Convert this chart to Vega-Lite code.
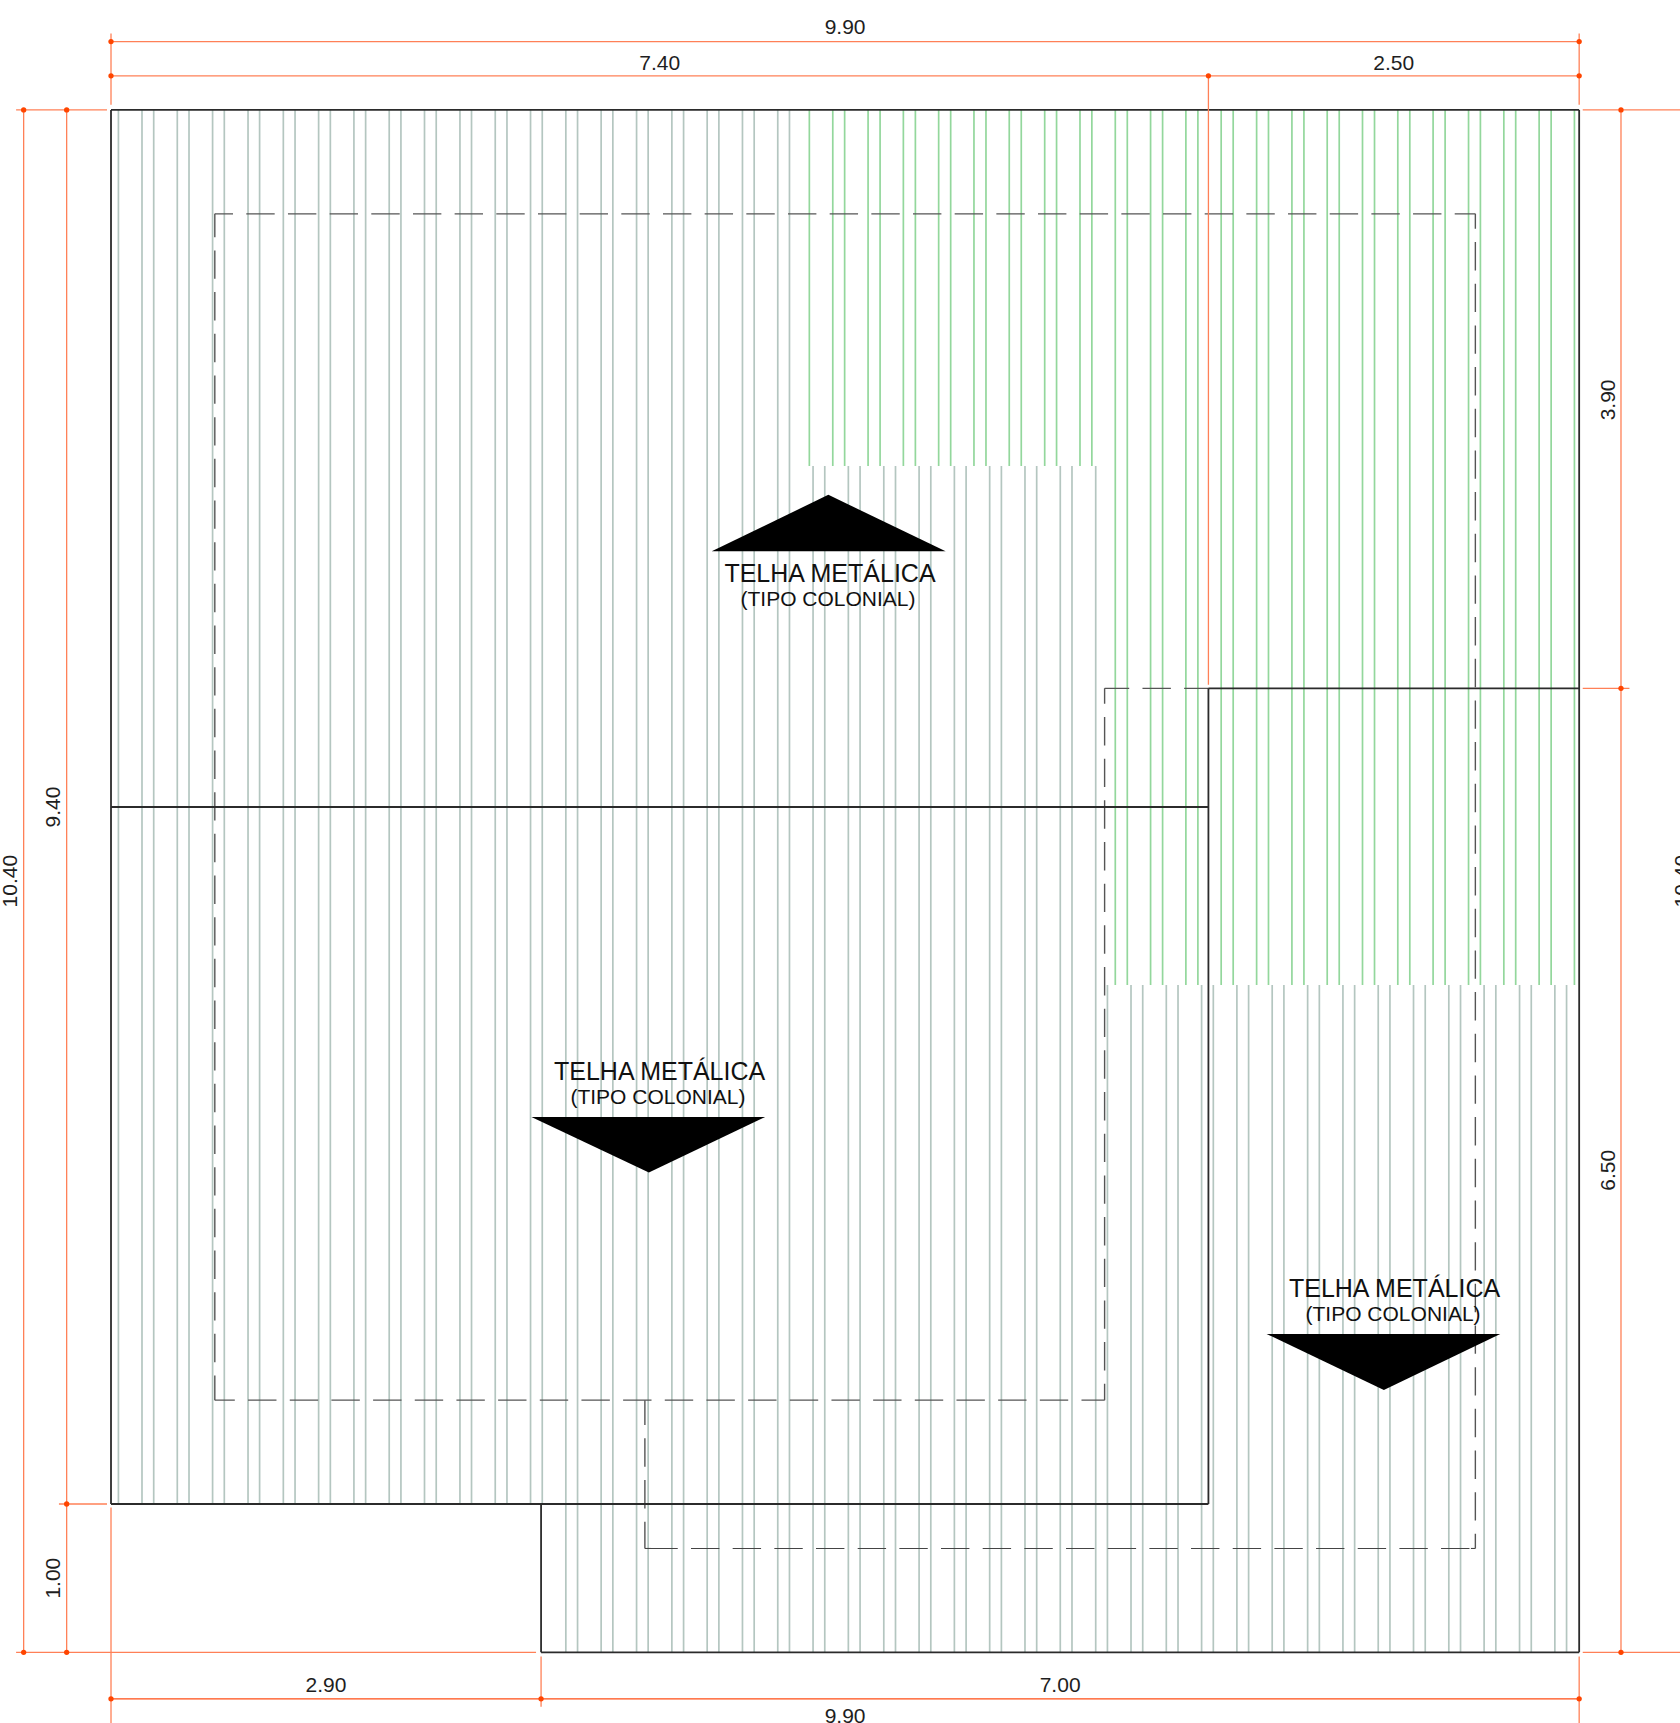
{"$schema":"https://vega.github.io/schema/vega-lite/v6.json","width":1680,"height":1723,"padding":0,"autosize":{"type":"none"},"background":"white","config":{"view":{"stroke":null}},
"datasets":{
"grey":[
{"x":0.050,"y":10.4,"y2":1},{"x":0.209,"y":10.4,"y2":1},{"x":0.288,"y":10.4,"y2":1},{"x":0.447,"y":10.4,"y2":1},{"x":0.526,"y":10.4,"y2":1},{"x":0.685,"y":10.4,"y2":1},{"x":0.764,"y":10.4,"y2":1},{"x":0.924,"y":10.4,"y2":1},{"x":1.002,"y":10.4,"y2":1},{"x":1.162,"y":10.4,"y2":1},{"x":1.241,"y":10.4,"y2":1},{"x":1.400,"y":10.4,"y2":1},{"x":1.479,"y":10.4,"y2":1},{"x":1.638,"y":10.4,"y2":1},{"x":1.717,"y":10.4,"y2":1},{"x":1.876,"y":10.4,"y2":1},{"x":1.955,"y":10.4,"y2":1},{"x":2.114,"y":10.4,"y2":1},{"x":2.193,"y":10.4,"y2":1},{"x":2.353,"y":10.4,"y2":1},{"x":2.431,"y":10.4,"y2":1},{"x":2.591,"y":10.4,"y2":1},{"x":2.670,"y":10.4,"y2":1},{"x":2.829,"y":10.4,"y2":1},{"x":2.908,"y":10.4,"y2":1},
{"x":3.067,"y":10.4,"y2":0},{"x":3.146,"y":10.4,"y2":0},{"x":3.305,"y":10.4,"y2":0},{"x":3.384,"y":10.4,"y2":0},{"x":3.544,"y":10.4,"y2":0},{"x":3.622,"y":10.4,"y2":0},{"x":3.782,"y":10.4,"y2":0},{"x":3.861,"y":10.4,"y2":0},{"x":4.020,"y":10.4,"y2":0},{"x":4.099,"y":10.4,"y2":0},{"x":4.258,"y":10.4,"y2":0},{"x":4.337,"y":10.4,"y2":0},{"x":4.496,"y":10.4,"y2":0},{"x":4.575,"y":10.4,"y2":0},
{"x":4.734,"y":8,"y2":0},{"x":4.813,"y":8,"y2":0},{"x":4.972,"y":8,"y2":0},{"x":5.051,"y":8,"y2":0},{"x":5.211,"y":8,"y2":0},{"x":5.290,"y":8,"y2":0},{"x":5.449,"y":8,"y2":0},{"x":5.528,"y":8,"y2":0},{"x":5.687,"y":8,"y2":0},{"x":5.766,"y":8,"y2":0},{"x":5.925,"y":8,"y2":0},{"x":6.004,"y":8,"y2":0},{"x":6.163,"y":8,"y2":0},{"x":6.242,"y":8,"y2":0},{"x":6.401,"y":8,"y2":0},{"x":6.480,"y":8,"y2":0},{"x":6.640,"y":8,"y2":0},
{"x":6.719,"y":4.5,"y2":0},{"x":6.878,"y":4.5,"y2":0},{"x":6.957,"y":4.5,"y2":0},{"x":7.116,"y":4.5,"y2":0},{"x":7.195,"y":4.5,"y2":0},{"x":7.354,"y":4.5,"y2":0},{"x":7.433,"y":4.5,"y2":0},{"x":7.592,"y":4.5,"y2":0},{"x":7.671,"y":4.5,"y2":0},{"x":7.830,"y":4.5,"y2":0},{"x":7.909,"y":4.5,"y2":0},{"x":8.069,"y":4.5,"y2":0},{"x":8.148,"y":4.5,"y2":0},{"x":8.307,"y":4.5,"y2":0},{"x":8.386,"y":4.5,"y2":0},{"x":8.545,"y":4.5,"y2":0},{"x":8.624,"y":4.5,"y2":0},{"x":8.783,"y":4.5,"y2":0},{"x":8.862,"y":4.5,"y2":0},{"x":9.021,"y":4.5,"y2":0},{"x":9.100,"y":4.5,"y2":0},{"x":9.259,"y":4.5,"y2":0},{"x":9.338,"y":4.5,"y2":0},{"x":9.498,"y":4.5,"y2":0},{"x":9.577,"y":4.5,"y2":0},{"x":9.736,"y":4.5,"y2":0},{"x":9.815,"y":4.5,"y2":0}],
"green":[
{"x":4.709,"y":10.4,"y2":8},{"x":4.867,"y":10.4,"y2":8},{"x":4.947,"y":10.4,"y2":8},{"x":5.105,"y":10.4,"y2":8},{"x":5.186,"y":10.4,"y2":8},{"x":5.343,"y":10.4,"y2":8},{"x":5.424,"y":10.4,"y2":8},{"x":5.581,"y":10.4,"y2":8},{"x":5.662,"y":10.4,"y2":8},{"x":5.819,"y":10.4,"y2":8},{"x":5.900,"y":10.4,"y2":8},{"x":6.057,"y":10.4,"y2":8},{"x":6.138,"y":10.4,"y2":8},{"x":6.296,"y":10.4,"y2":8},{"x":6.376,"y":10.4,"y2":8},{"x":6.534,"y":10.4,"y2":8},{"x":6.614,"y":10.4,"y2":8},
{"x":6.772,"y":10.4,"y2":4.5},{"x":6.853,"y":10.4,"y2":4.5},{"x":7.010,"y":10.4,"y2":4.5},{"x":7.091,"y":10.4,"y2":4.5},{"x":7.248,"y":10.4,"y2":4.5},{"x":7.329,"y":10.4,"y2":4.5},{"x":7.486,"y":10.4,"y2":4.5},{"x":7.567,"y":10.4,"y2":4.5},{"x":7.725,"y":10.4,"y2":4.5},{"x":7.805,"y":10.4,"y2":4.5},{"x":7.963,"y":10.4,"y2":4.5},{"x":8.044,"y":10.4,"y2":4.5},{"x":8.201,"y":10.4,"y2":4.5},{"x":8.282,"y":10.4,"y2":4.5},{"x":8.439,"y":10.4,"y2":4.5},{"x":8.520,"y":10.4,"y2":4.5},{"x":8.677,"y":10.4,"y2":4.5},{"x":8.758,"y":10.4,"y2":4.5},{"x":8.915,"y":10.4,"y2":4.5},{"x":8.996,"y":10.4,"y2":4.5},{"x":9.154,"y":10.4,"y2":4.5},{"x":9.234,"y":10.4,"y2":4.5},{"x":9.392,"y":10.4,"y2":4.5},{"x":9.472,"y":10.4,"y2":4.5},{"x":9.630,"y":10.4,"y2":4.5},{"x":9.711,"y":10.4,"y2":4.5},{"x":9.868,"y":10.4,"y2":4.5}],
"walls":[
{"x":0,"x2":9.9,"y":10.4,"y2":10.4},{"x":0,"x2":0,"y":10.4,"y2":1},{"x":0,"x2":7.4,"y":1,"y2":1},{"x":7.4,"x2":7.4,"y":6.5,"y2":1},{"x":7.4,"x2":9.9,"y":6.5,"y2":6.5},{"x":9.9,"x2":9.9,"y":10.4,"y2":0},{"x":2.9,"x2":9.9,"y":0,"y2":0},{"x":2.9,"x2":2.9,"y":1,"y2":0},{"x":0,"x2":7.4,"y":5.7,"y2":5.7}],
"orange":[
{"x":0,"x2":0,"y":10.915,"y2":10.436},{"x":9.9,"x2":9.9,"y":10.915,"y2":10.436},{"x":0,"x2":9.9,"y":10.861,"y2":10.861},{"x":0,"x2":9.9,"y":10.63,"y2":10.63},{"x":7.4,"x2":7.4,"y":10.63,"y2":6.525},
{"x":-0.64,"x2":-0.027,"y":10.4,"y2":10.4},{"x":-0.589,"x2":-0.589,"y":10.4,"y2":0},{"x":-0.299,"x2":-0.299,"y":10.4,"y2":0},{"x":-0.351,"x2":-0.027,"y":1,"y2":1},{"x":-0.64,"x2":2.866,"y":0,"y2":0},
{"x":9.924,"x2":10.58,"y":10.4,"y2":10.4},{"x":10.182,"x2":10.182,"y":10.4,"y2":0},{"x":9.924,"x2":10.239,"y":6.5,"y2":6.5},{"x":9.924,"x2":10.58,"y":0,"y2":0},
{"x":0,"x2":0,"y":0.976,"y2":-0.481},{"x":2.9,"x2":2.9,"y":-0.029,"y2":-0.368},{"x":9.9,"x2":9.9,"y":-0.029,"y2":-0.481}],
"dots":[{"x":0,"y":10.861},{"x":0,"y":10.63},{"x":9.9,"y":10.861},{"x":9.9,"y":10.63},{"x":7.4,"y":10.63},{"x":-0.589,"y":10.4},{"x":-0.299,"y":10.4},{"x":-0.299,"y":1},{"x":-0.589,"y":0},{"x":-0.299,"y":0},{"x":10.182,"y":10.4},{"x":10.182,"y":6.5},{"x":10.182,"y":0},{"x":0,"y":-0.314},{"x":2.9,"y":-0.314},{"x":9.9,"y":-0.314}],
"tri":[
{"t":"a","x":4.051,"y":7.424,"y2":7.424},{"t":"a","x":4.837,"y":7.805,"y2":7.424},{"t":"a","x":5.628,"y":7.424,"y2":7.424},
{"t":"b","x":2.835,"y":3.610,"y2":3.610},{"t":"b","x":3.627,"y":3.235,"y2":3.610},{"t":"b","x":4.411,"y":3.610,"y2":3.610},
{"t":"c","x":7.792,"y":2.147,"y2":2.147},{"t":"c","x":8.583,"y":1.769,"y2":2.147},{"t":"c","x":9.368,"y":2.147,"y2":2.147}],
"dimH":[{"x":4.95,"y":10.95,"l":"9.90"},{"x":3.7,"y":10.713,"l":"7.40"},{"x":8.65,"y":10.713,"l":"2.50"},{"x":4.95,"y":-0.435,"l":"9.90"},{"x":1.45,"y":-0.23,"l":"2.90"},{"x":6.4,"y":-0.23,"l":"7.00"}],
"dimV":[{"x":-0.677,"y":5.2,"l":"10.40"},{"x":-0.387,"y":5.7,"l":"9.40"},{"x":-0.387,"y":0.5,"l":"1.00"},{"x":10.098,"y":8.445,"l":"3.90"},{"x":10.098,"y":3.25,"l":"6.50"},{"x":10.6,"y":5.2,"l":"10.40"}],
"titles":[{"x":4.848,"y":7.215,"l":"TELHA METÁLICA"},{"x":3.699,"y":3.857,"l":"TELHA METÁLICA"},{"x":8.655,"y":2.394,"l":"TELHA METÁLICA"}],
"subs":[{"x":4.835,"y":7.053,"l":"(TIPO COLONIAL)"},{"x":3.688,"y":3.695,"l":"(TIPO COLONIAL)"},{"x":8.645,"y":2.232,"l":"(TIPO COLONIAL)"}]
},
"encoding":{"x":{"field":"x","type":"quantitative","axis":null,"scale":{"domain":[-0.7485,10.5799],"nice":false,"zero":false}},"y":{"field":"y","type":"quantitative","axis":null,"scale":{"domain":[-0.4768,11.1415],"nice":false,"zero":false}}},
"layer":[
{"data":{"name":"grey"},"mark":{"type":"rule","color":"#b4c6c0","strokeWidth":1.7},"encoding":{"y2":{"field":"y2"}}},
{"data":{"name":"green"},"mark":{"type":"rule","color":"#93d79c","strokeWidth":1.7},"encoding":{"y2":{"field":"y2"}}},
{"data":{"values":[{"x":0.7,"x2":9.2,"y":9.7,"y2":9.7}]},"mark":{"type":"rule","color":"#555555","strokeWidth":1.2,"strokeDash":[28.4,13.27],"strokeDashOffset":10.2},"encoding":{"x2":{"field":"x2"},"y2":{"field":"y2"}}},
{"data":{"values":[{"x":0.7,"x2":0.7,"y":9.7,"y2":1.7}]},"mark":{"type":"rule","color":"#555555","strokeWidth":1.4,"strokeDash":[28.4,13.27],"strokeDashOffset":5},"encoding":{"x2":{"field":"x2"},"y2":{"field":"y2"}}},
{"data":{"values":[{"x":0.7,"x2":6.7,"y":1.7,"y2":1.7}]},"mark":{"type":"rule","color":"#555555","strokeWidth":1.2,"strokeDash":[28.4,13.27],"strokeDashOffset":8.4},"encoding":{"x2":{"field":"x2"},"y2":{"field":"y2"}}},
{"data":{"values":[{"x":3.6,"x2":3.6,"y":1.7,"y2":0.7}]},"mark":{"type":"rule","color":"#555555","strokeWidth":1.4,"strokeDash":[28.4,13.27],"strokeDashOffset":3.5},"encoding":{"x2":{"field":"x2"},"y2":{"field":"y2"}}},
{"data":{"values":[{"x":3.63,"x2":9.2,"y":0.7,"y2":0.7}]},"mark":{"type":"rule","color":"#444444","strokeWidth":1.1,"strokeDash":[28.4,13.27],"strokeDashOffset":0},"encoding":{"x2":{"field":"x2"},"y2":{"field":"y2"}}},
{"data":{"values":[{"x":3.6,"x2":3.64,"y":0.7,"y2":0.7},{"x":9.17,"x2":9.2,"y":0.7,"y2":0.7}]},"mark":{"type":"rule","color":"#444444","strokeWidth":1.1},"encoding":{"x2":{"field":"x2"},"y2":{"field":"y2"}}},
{"data":{"values":[{"x":9.2,"x2":9.2,"y":9.7,"y2":0.7}]},"mark":{"type":"rule","color":"#555555","strokeWidth":1.4,"strokeDash":[28.4,13.27],"strokeDashOffset":13.4},"encoding":{"x2":{"field":"x2"},"y2":{"field":"y2"}}},
{"data":{"values":[{"x":6.7,"x2":6.7,"y":6.5,"y2":1.7}]},"mark":{"type":"rule","color":"#555555","strokeWidth":1.4,"strokeDash":[28.4,13.27],"strokeDashOffset":13},"encoding":{"x2":{"field":"x2"},"y2":{"field":"y2"}}},
{"data":{"values":[{"x":6.7,"x2":7.4,"y":6.5,"y2":6.5}]},"mark":{"type":"rule","color":"#555555","strokeWidth":1.2,"strokeDash":[28.4,13.27],"strokeDashOffset":3.8},"encoding":{"x2":{"field":"x2"},"y2":{"field":"y2"}}},
{"data":{"name":"walls"},"mark":{"type":"rule","color":"#2b2b2b","strokeWidth":1.8},"encoding":{"x2":{"field":"x2"},"y2":{"field":"y2"}}},
{"data":{"name":"orange"},"mark":{"type":"rule","color":"#ff8057","strokeWidth":1.3},"encoding":{"x2":{"field":"x2"},"y2":{"field":"y2"}}},
{"data":{"values":[{"x":0,"x2":9.9,"y":-0.314,"y2":-0.314}]},"mark":{"type":"rule","color":"#ff4c14","strokeWidth":1.2},"encoding":{"x2":{"field":"x2"},"y2":{"field":"y2"}}},
{"data":{"name":"dots"},"mark":{"type":"point","filled":true,"color":"#ff4500","size":28,"opacity":1}},
{"data":{"name":"tri"},"mark":{"type":"area","orient":"vertical","color":"#000000","opacity":1},"encoding":{"x":{"field":"x","type":"quantitative","stack":null},"y":{"field":"y","type":"quantitative","stack":null},"y2":{"field":"y2"},"detail":{"field":"t"}}},
{"data":{"name":"dimH"},"mark":{"type":"text","font":"Liberation Sans","fontSize":21,"color":"#1e1e1e","baseline":"middle","align":"center"},"encoding":{"text":{"field":"l"}}},
{"data":{"name":"dimV"},"mark":{"type":"text","font":"Liberation Sans","fontSize":21,"color":"#1e1e1e","baseline":"middle","align":"center","angle":270},"encoding":{"text":{"field":"l"}}},
{"data":{"name":"titles"},"mark":{"type":"text","font":"Liberation Sans","fontSize":25,"color":"#111111","baseline":"alphabetic","align":"center"},"encoding":{"text":{"field":"l"}}},
{"data":{"name":"subs"},"mark":{"type":"text","font":"Liberation Sans","fontSize":21,"color":"#111111","baseline":"alphabetic","align":"center"},"encoding":{"text":{"field":"l"}}}
]}
